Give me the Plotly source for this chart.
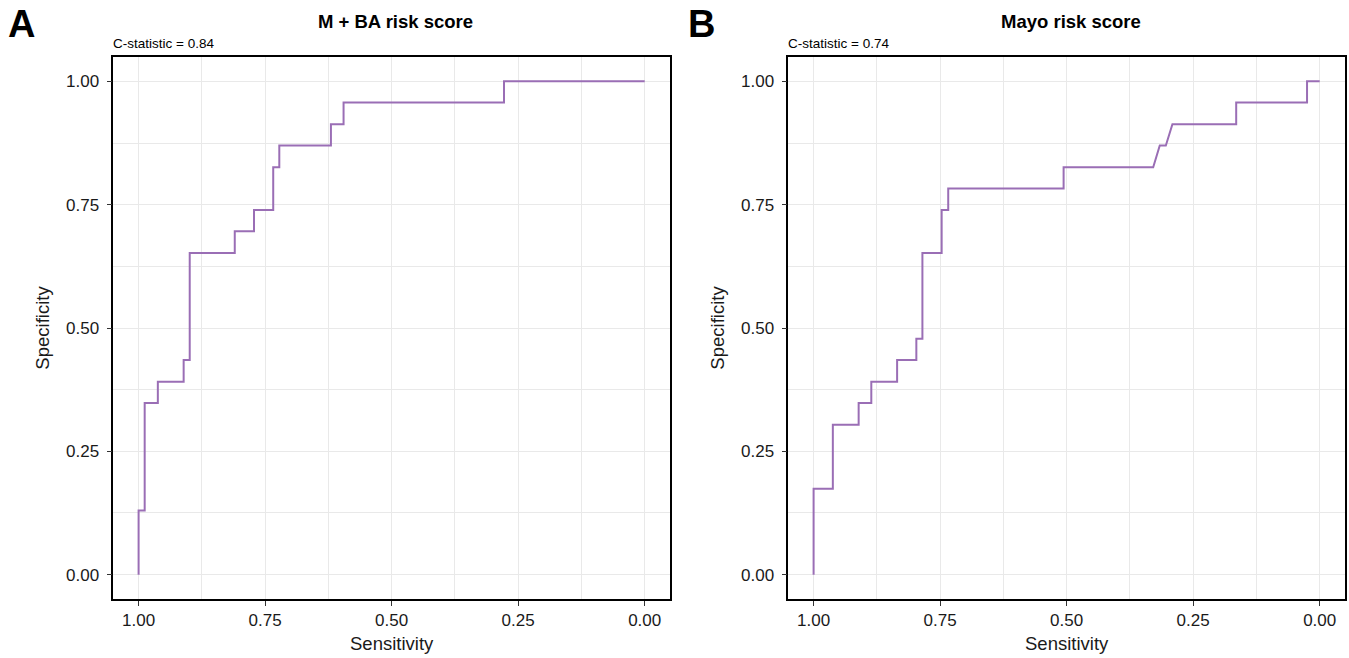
import plotly.graph_objects as go

# ---- data (ROC points) ----
panel_letters = ["A", "B"]
panel_titles = ["M + BA risk score", "Mayo risk score"]
c_statistics = ["C-statistic = 0.84", "C-statistic = 0.74"]

sens_a = [1.0, 1.0, 0.988, 0.988, 0.962, 0.962, 0.911, 0.911, 0.899, 0.899,
          0.810, 0.810, 0.772, 0.772, 0.734, 0.734, 0.722, 0.722, 0.620, 0.620,
          0.595, 0.595, 0.278, 0.278, 0.0]
spec_a = [0.0, 0.130, 0.130, 0.348, 0.348, 0.391, 0.391, 0.435, 0.435, 0.652,
          0.652, 0.696, 0.696, 0.739, 0.739, 0.826, 0.826, 0.870, 0.870, 0.913,
          0.913, 0.957, 0.957, 1.0, 1.0]

sens_b = [1.0, 1.0, 0.962, 0.962, 0.911, 0.911, 0.886, 0.886, 0.835, 0.835,
          0.797, 0.797, 0.785, 0.785, 0.747, 0.747, 0.734, 0.734, 0.506, 0.506,
          0.329, 0.316, 0.304, 0.291, 0.165, 0.165, 0.025, 0.025, 0.0]
spec_b = [0.0, 0.174, 0.174, 0.304, 0.304, 0.348, 0.348, 0.391, 0.391, 0.435,
          0.435, 0.478, 0.478, 0.652, 0.652, 0.739, 0.739, 0.783, 0.783, 0.826,
          0.826, 0.870, 0.870, 0.913, 0.913, 0.957, 0.957, 1.0, 1.0]

tick_vals = [0, 0.25, 0.5, 0.75, 1.0]
tick_text = ["0.00", "0.25", "0.50", "0.75", "1.00"]
minor_vals = [0.125, 0.375, 0.625, 0.875]

x_label = "Sensitivity"
y_label = "Specificity"

# ---- layout geometry (window pixels) ----
W, H = 1349, 658
panels_px = [(113.3, 670.0), (788.3, 1345.0)]
top_px, bottom_px = 56.7, 599.3
LINE_COLOR = "#9a6eb5"
GRID = "#e9e9e9"
FONT = "Liberation Sans, Arial, sans-serif"

fig = go.Figure()
series = [(sens_a, spec_a), (sens_b, spec_b)]


def px(x):
    return x / W


def py(y):
    return 1 - y / H


annotations = []
for i, ((sx, sy), (l, r)) in enumerate(zip(series, panels_px)):
    xa = "x" if i == 0 else "x2"
    ya = "y" if i == 0 else "y2"
    fig.add_trace(go.Scatter(x=sx, y=sy, mode="lines",
                             line=dict(color=LINE_COLOR, width=2),
                             xaxis=xa, yaxis=ya, showlegend=False,
                             hoverinfo="x+y"))
    axis_common = dict(
        tickmode="array", tickvals=tick_vals, ticktext=tick_text,
        ticks="outside", ticklen=5, tickwidth=1, tickcolor="#333333",
        tickfont=dict(size=17, color="#1a1a1a", family=FONT),
        showgrid=True, gridcolor=GRID, gridwidth=1,
        minor=dict(tickvals=minor_vals, showgrid=True, gridcolor=GRID,
                   gridwidth=1, ticks=""),
        zeroline=False, showline=True, linecolor="#000000", linewidth=1.5,
        mirror=True,
    )
    xkey = "xaxis" if i == 0 else "xaxis2"
    ykey = "yaxis" if i == 0 else "yaxis2"
    fig.update_layout(**{
        xkey: dict(axis_common, range=[1.05, -0.05],
                   domain=[px(l), px(r)], anchor=ya,
                   title=dict(text=x_label, standoff=8,
                              font=dict(size=18.5, color="#1a1a1a", family=FONT))),
        ykey: dict(axis_common, range=[-0.05, 1.05],
                   domain=[py(bottom_px), py(top_px)], anchor=xa,
                   ticklabelstandoff=4,
                   title=dict(text=y_label, standoff=12,
                              font=dict(size=18.5, color="#1a1a1a", family=FONT))),
    })
    cx = (l + r) / 2
    annotations.append(dict(text="<b>" + panel_titles[i] + "</b>", x=px(cx + 4), y=py(21.5),
                            xref="paper", yref="paper", showarrow=False,
                            xanchor="center", yanchor="middle",
                            font=dict(size=18.5, color="#000000", family=FONT)))
    annotations.append(dict(text=c_statistics[i], x=px(l - 2), y=py(44),
                            xref="paper", yref="paper", showarrow=False,
                            xanchor="left", yanchor="middle",
                            font=dict(size=13.5, color="#000000", family=FONT)))
    annotations.append(dict(text="<b>" + panel_letters[i] + "</b>",
                            x=px(6 if i == 0 else 686), y=py(24),
                            xref="paper", yref="paper", showarrow=False,
                            xanchor="left", yanchor="middle",
                            font=dict(size=38, color="#000000", family=FONT)))

fig.update_layout(
    width=W, height=H,
    margin=dict(l=0, r=0, t=0, b=0),
    paper_bgcolor="white", plot_bgcolor="white",
    annotations=annotations,
    font=dict(family=FONT, color="#1a1a1a"),
)

fig.write_html("out.html",
               config={"displayModeBar": False},
               post_script="document.body.style.margin='0';"
                           "document.body.style.overflow='hidden';")
